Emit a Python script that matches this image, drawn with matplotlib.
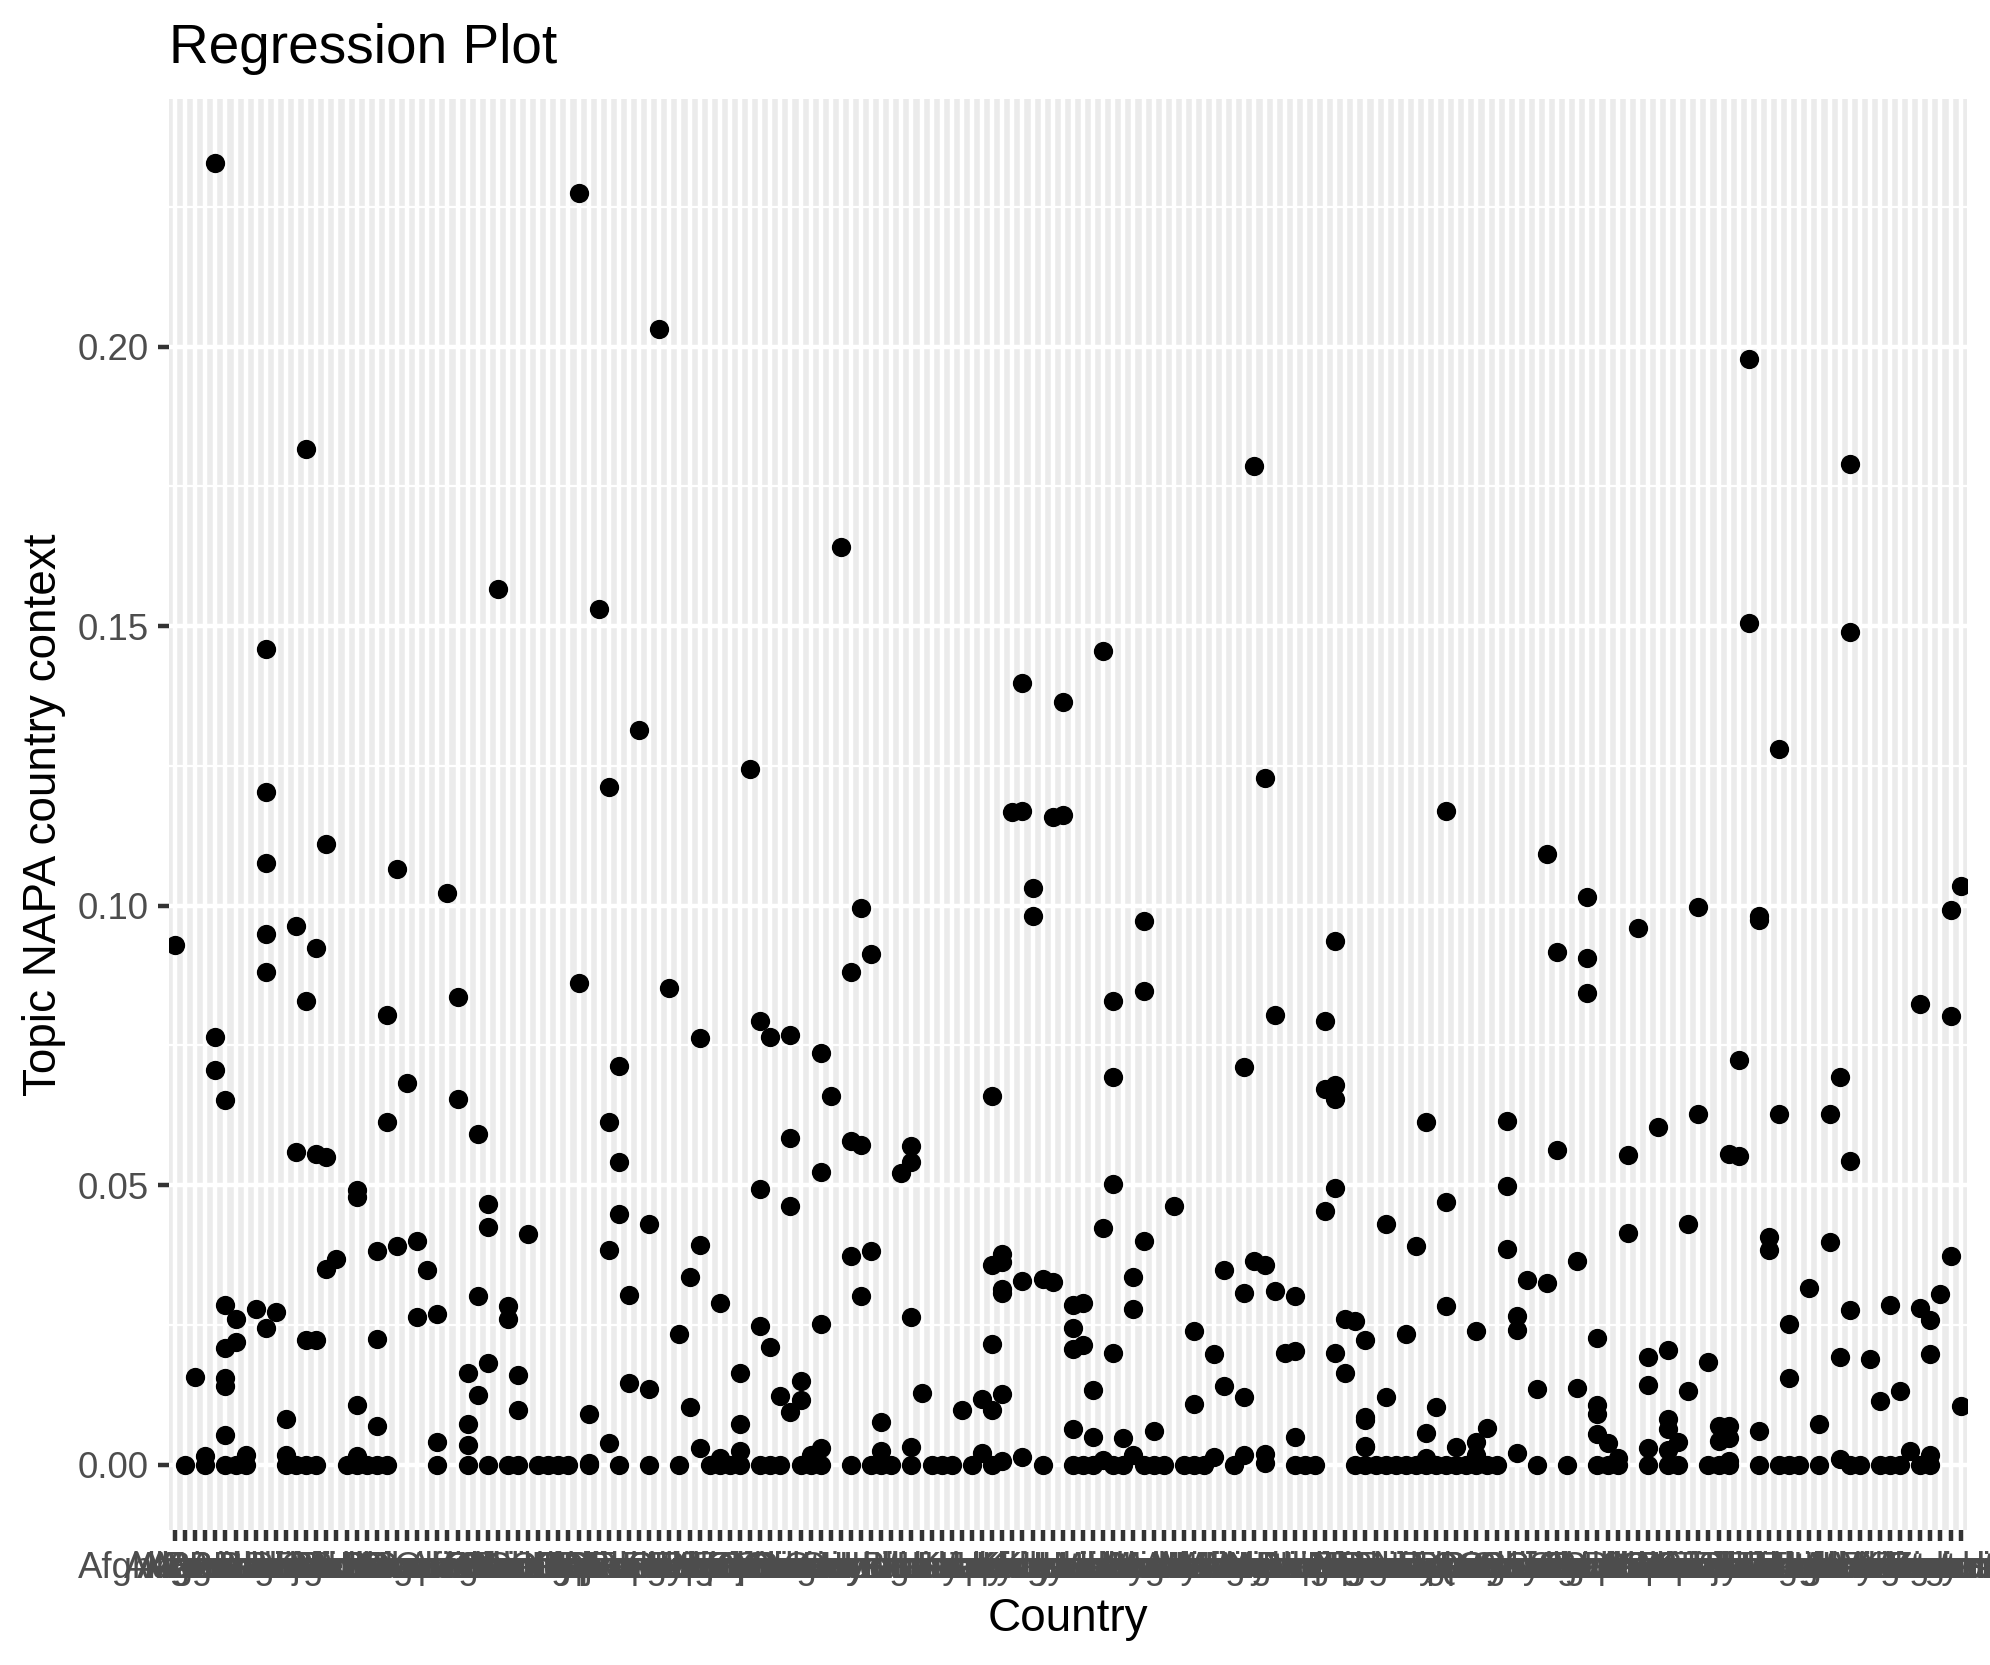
import matplotlib
matplotlib.use('Agg')
import matplotlib.pyplot as plt
import numpy as np

plt.rcParams['font.family'] = ['Liberation Sans', 'DejaVu Sans']

countries = [
    'Afghanistan', 'Albania', 'Algeria', 'Angola', 'Argentina', 'Armenia', 'Australia', 'Austria', 'Azerbaijan',
    'Bahamas', 'Bahrain', 'Bangladesh', 'Barbados', 'Belarus', 'Belgium', 'Belize', 'Benin', 'Bhutan', 'Bolivia',
    'Bosnia and Herzegovina', 'Botswana', 'Brazil', 'Brunei', 'Bulgaria', 'Burkina Faso', 'Burundi', 'Cambodia', 'Cameroon', 'Canada',
    'Cape Verde', 'Central African Republic', 'Chad', 'Chile', 'China', 'Colombia', 'Comoros', 'Congo', 'Costa Rica', "Cote d'Ivoire",
    'Croatia', 'Cuba', 'Cyprus', 'Czech Republic', 'Denmark', 'Djibouti', 'Dominica', 'Dominican Republic', 'DR Congo', 'Ecuador',
    'Egypt', 'El Salvador', 'Equatorial Guinea', 'Eritrea', 'Estonia', 'Ethiopia', 'Fiji', 'Finland', 'France', 'Gabon',
    'Gambia', 'Georgia', 'Germany', 'Ghana', 'Greece', 'Grenada', 'Guatemala', 'Guinea', 'Guinea-Bissau', 'Guyana',
    'Haiti', 'Honduras', 'Hungary', 'Iceland', 'India', 'Indonesia', 'Iran', 'Iraq', 'Ireland', 'Israel',
    'Italy', 'Jamaica', 'Japan', 'Jordan', 'Kazakhstan', 'Kenya', 'Kiribati', 'Kosovo', 'Kuwait', 'Kyrgyzstan', 'Laos',
    'Latvia', 'Lebanon', 'Lesotho', 'Liberia', 'Libya', 'Lithuania', 'Luxembourg', 'Madagascar', 'Malawi', 'Malaysia',
    'Maldives', 'Mali', 'Malta', 'Mauritania', 'Mauritius', 'Mexico', 'Moldova', 'Mongolia', 'Montenegro', 'Morocco',
    'Mozambique', 'Myanmar', 'Namibia', 'Nepal', 'Netherlands', 'New Zealand', 'Nicaragua', 'Niger', 'Nigeria', 'Norway',
    'Oman', 'Pakistan', 'Panama', 'Papua New Guinea', 'Paraguay', 'Peru', 'Philippines', 'Poland', 'Portugal', 'Qatar',
    'Romania', 'Russia', 'Rwanda', 'Samoa', 'Sao Tome and Principe', 'Saudi Arabia', 'Senegal', 'Serbia', 'Seychelles', 'Sierra Leone',
    'Singapore', 'Slovakia', 'Slovenia', 'Solomon Islands', 'Somalia', 'South Africa', 'South Korea', 'South Sudan', 'Spain', 'Sri Lanka',
    'Sudan', 'Suriname', 'Swaziland', 'Sweden', 'Switzerland', 'Syria', 'Tajikistan', 'Tanzania', 'Thailand', 'Togo',
    'Tonga', 'Trinidad and Tobago', 'Tunisia', 'Turkey', 'Turkmenistan', 'Uganda', 'Ukraine', 'United Arab Emirates', 'United Kingdom', 'United States',
    'Uruguay', 'Uzbekistan', 'Vanuatu', 'Venezuela', 'Vietnam', 'Yemen', 'Zambia', 'Zimbabwe',
]

# countries sitting at exactly zero
zero_idx = [1, 3, 5, 6, 7, 11, 12, 13, 14, 17, 18, 19, 20, 21, 26, 29, 31, 33, 34, 36, 37, 38, 39, 41, 44,
            47, 50, 53, 54, 55, 56, 58, 59, 60, 62, 63, 64, 67, 69, 70, 71, 73, 75, 76, 77, 79, 81, 86, 89,
            90, 91, 93, 94, 96, 97, 98, 100, 101, 102, 105, 111, 112, 113, 117, 118, 119, 120, 121, 122,
            123, 124, 125, 126, 127, 128, 129, 130, 131, 135, 138, 141, 142, 143, 146, 148, 149, 152, 153,
            154, 157, 159, 160, 161, 163, 166, 167, 169, 170, 171, 173, 174]

point_idx = [0, 2, 3, 4, 4, 4, 5, 5, 5, 5,
             5, 5, 6, 6, 7, 8, 9, 9, 9, 9,
             9, 9, 10, 11, 11, 12, 12, 13, 13, 13,
             14, 14, 14, 15, 15, 15, 16, 18, 18, 18,
             18, 20, 20, 20, 21, 21, 22, 22, 23, 24,
             24, 25, 26, 26, 27, 28, 28, 29, 29, 29,
             30, 30, 30, 31, 31, 31, 32, 33, 33, 34,
             34, 35, 40, 40, 41, 41, 42, 43, 43, 43,
             43, 44, 44, 44, 45, 45, 46, 47, 47, 48,
             49, 50, 51, 51, 52, 52, 52, 54, 54, 56,
             56, 56, 57, 58, 58, 58, 59, 59, 60, 61,
             61, 61, 61, 62, 62, 63, 64, 64, 64, 64,
             65, 66, 67, 67, 67, 68, 68, 68, 69, 69,
             70, 70, 72, 73, 73, 73, 73, 74, 78, 80,
             80, 81, 81, 81, 81, 82, 82, 82, 82, 82,
             82, 83, 84, 84, 84, 84, 85, 85, 86, 87,
             87, 88, 88, 89, 89, 89, 89, 90, 90, 91,
             91, 92, 92, 92, 93, 93, 93, 93, 94, 95,
             95, 95, 96, 96, 96, 97, 99, 101, 101, 103,
             103, 104, 104, 106, 106, 106, 106, 107, 107, 108,
             108, 108, 108, 109, 109, 110, 111, 111, 111, 114,
             114, 114, 115, 115, 115, 115, 115, 116, 116, 117,
             118, 118, 118, 118, 118, 120, 120, 122, 123, 124,
             124, 124, 125, 126, 126, 126, 127, 129, 129, 129,
             130, 132, 132, 132, 133, 133, 133, 134, 135, 136,
             136, 137, 137, 139, 139, 140, 140, 140, 141, 141,
             141, 141, 142, 143, 144, 144, 145, 146, 146, 146,
             147, 148, 148, 148, 148, 149, 150, 150, 151, 151,
             152, 153, 153, 154, 154, 154, 154, 155, 155, 156,
             156, 157, 157, 157, 158, 158, 159, 159, 160, 160,
             162, 163, 164, 164, 165, 165, 165, 166, 166, 166,
             166, 168, 169, 170, 171, 172, 173, 173, 174, 174,
             174, 175, 176, 176, 176, 177, 177]
point_val = [.0929, .0157, .0015, .2328, .0765, .0706, .0652, .0286, .0209, .0155,
             .0140, .0054, .0261, .0220, .0018, .0279, .1460, .1204, .1076, .0949,
             .0881, .0245, .0273, .0082, .0017, .0963, .0559, .1817, .0829, .0223,
             .0924, .0556, .0223, .1111, .0550, .0350, .0368, .0491, .0479, .0107,
             .0015, .0382, .0225, .0070, .0804, .0613, .1065, .0391, .0683, .0400,
             .0264, .0348, .0270, .0040, .1022, .0836, .0654, .0164, .0073, .0036,
             .0591, .0302, .0125, .0466, .0425, .0182, .1567, .0284, .0261, .0160,
             .0098, .0413, .2275, .0861, .0003, .0091, .1531, .1213, .0613, .0384,
             .0038, .0713, .0541, .0448, .0304, .0146, .1315, .0430, .0136, .2032,
             .0852, .0234, .0336, .0103, .0763, .0393, .0030, .0289, .0012, .0164,
             .0073, .0024, .1244, .0793, .0493, .0248, .0765, .0211, .0123, .0768,
             .0584, .0463, .0095, .0149, .0115, .0018, .0736, .0523, .0252, .0030,
             .0659, .1642, .0881, .0579, .0373, .0995, .0572, .0302, .0913, .0382,
             .0076, .0024, .0522, .0570, .0541, .0264, .0032, .0129, .0097, .0117,
             .0021, .0659, .0357, .0216, .0097, .0377, .0363, .0314, .0307, .0127,
             .0006, .1167, .1170, .1399, .0329, .0013, .1031, .0981, .0332, .0327,
             .1158, .1163, .1365, .0286, .0245, .0207, .0064, .0289, .0214, .0134,
             .0049, .1456, .0423, .0008, .0829, .0693, .0502, .0200, .0048, .0336,
             .0279, .0018, .0972, .0847, .0400, .0060, .0463, .0239, .0109, .0198,
             .0013, .0348, .0141, .0711, .0307, .0121, .0018, .1787, .0364, .0357,
             .1228, .0019, .0003, .0804, .0311, .0200, .0302, .0203, .0049, .0793,
             .0672, .0454, .0679, .0654, .0936, .0495, .0200, .0261, .0164, .0257,
             .0223, .0085, .0080, .0034, .0031, .0431, .0121, .0234, .0391, .0613,
             .0057, .0012, .0103, .1170, .0470, .0284, .0032, .0239, .0041, .0018,
             .0066, .0615, .0498, .0386, .0266, .0241, .0021, .0330, .0135, .0325,
             .1092, .0918, .0563, .0364, .0138, .1015, .0906, .0843, .0227, .0107,
             .0091, .0055, .0038, .0012, .0554, .0414, .0960, .0193, .0143, .0030,
             .0604, .0205, .0081, .0063, .0027, .0040, .0430, .0131, .0997, .0627,
             .0183, .0069, .0042, .0069, .0048, .0006, .0556, .0552, .0724, .1978,
             .1506, .0981, .0974, .0060, .0407, .0384, .1281, .0627, .0252, .0155,
             .0316, .0072, .0627, .0398, .0693, .0193, .0011, .1790, .1490, .0543,
             .0277, .0189, .0114, .0286, .0132, .0024, .0824, .0280, .0259, .0198,
             .0018, .0305, .0992, .0802, .0373, .1036, .0105]

y_major = [0.00, 0.05, 0.10, 0.15, 0.20]
y_minor = [0.025, 0.075, 0.125, 0.175, 0.225]

assert len(point_idx) == len(point_val)
assert len(countries) == 178
xs = np.array(zero_idx + point_idx)
ys = np.array([0.0] * len(zero_idx) + point_val)

W, H = 1990, 1665
fig = plt.figure(figsize=(W / 300, H / 300), dpi=300, facecolor='white')
ax = fig.add_axes([169 / W, 1 - 1530 / H, (1966.7 - 169) / W, (1530 - 99) / H], facecolor='#EBEBEB')

ax.scatter(xs, ys, s=21.4, color='black', linewidths=0, zorder=3)

ax.set_xlim(-0.6, len(countries) - 1 + 0.6)
ax.set_ylim(-0.01168, 0.2443)

ax.set_xticks(range(len(countries)))
ax.set_xticklabels(countries)
ax.set_yticks(y_major)
ax.set_yticklabels(['%.2f' % v for v in y_major])
ax.set_yticks(y_minor, minor=True)

ax.set_axisbelow(True)
ax.grid(True, which='major', color='white', linewidth=1.07)
ax.grid(True, which='minor', axis='y', color='white', linewidth=0.53)
ax.tick_params(which='major', length=2.75, width=1.07, color='#333333', labelcolor='#4D4D4D', labelsize=8.8, pad=2.2)
ax.tick_params(which='minor', length=0)
for s in ax.spines.values():
    s.set_visible(False)

ax.set_title('Regression Plot', loc='left', fontsize=13.2, pad=8.6, color='black')
ax.set_xlabel('Country', fontsize=11, color='black')
ax.set_ylabel('Topic NAPA country context', fontsize=11, color='black')
ax.xaxis.set_label_coords(0.5, (1530 - 1597) / (1530 - 99))
ax.yaxis.set_label_coords((66 - 169) / (1966.7 - 169), 0.5)

fig.savefig('out.png', dpi=300)
